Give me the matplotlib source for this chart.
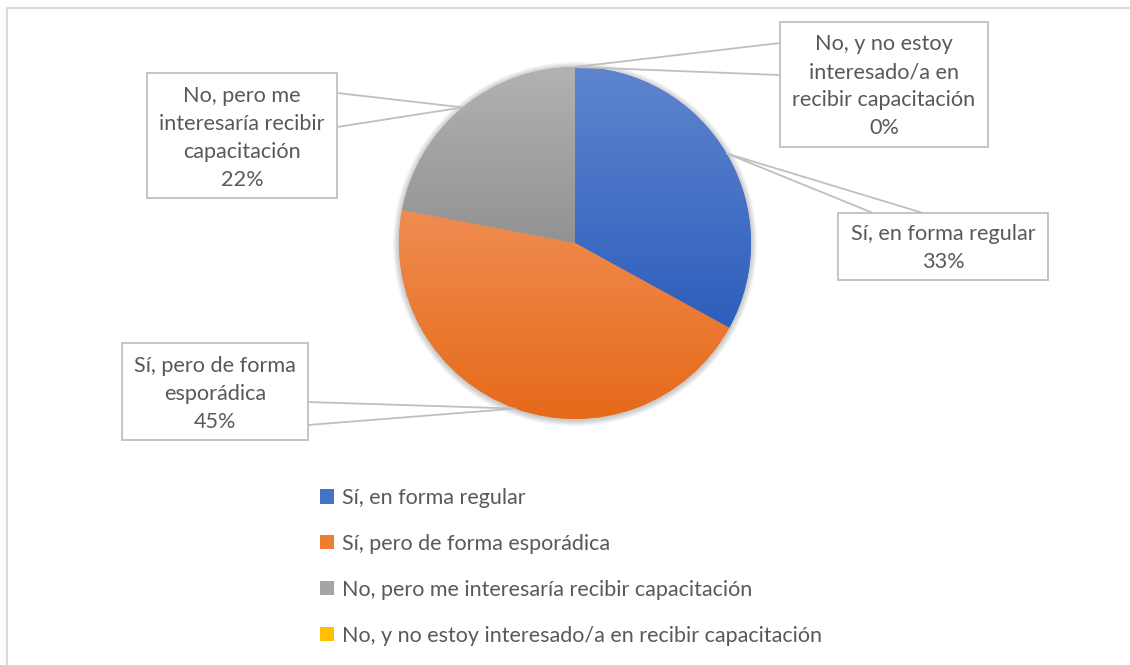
import matplotlib.pyplot as plt
import numpy as np
from matplotlib.patches import Rectangle, Patch, Circle
from matplotlib.colors import LinearSegmentedColormap

categories = [
    "Sí, en forma regular",
    "Sí, pero de forma esporádica",
    "No, pero me interesaría recibir capacitación",
    "No, y no estoy interesado/a en recibir capacitación",
]
values = [33, 45, 22, 0]
box_labels = [
    "Sí, en forma regular",
    "Sí, pero de forma\nesporádica",
    "No, pero me\ninteresaría recibir\ncapacitación",
    "No, y no estoy\ninteresado/a en\nrecibir capacitación",
]

colors_mid = ["#4472C4", "#ED7D31", "#A5A5A5", "#FFC000"]
colors_top = ["#5E85CE", "#F08C50", "#B2B2B2", "#FFCD33"]
colors_bot = ["#2E5EBC", "#E56A19", "#929292", "#E6AC00"]

W, H = 1130, 665
TEXT = "#595959"
LINE = "#BFBFBF"
plt.rcParams["font.family"] = ["Lato", "DejaVu Sans"]


def Y(y):
    # image row -> data y
    return H - y


fig = plt.figure(figsize=(W / 100, H / 100), dpi=100)
ax = fig.add_axes([0, 0, 1, 1])

cx, cy, r = 575, Y(243), 176

# soft shadow behind the pie
for k in range(1, 7):
    ax.add_patch(Circle((cx, cy - 1), r + k, color="black", alpha=0.035, lw=0, zorder=1))

wedges, _ = ax.pie(values, colors=colors_mid, startangle=90, counterclock=False,
                   radius=r, center=(cx, cy), frame=True,
                   wedgeprops=dict(linewidth=0))
for w in wedges:
    w.set_zorder(2)

# vertical gradient in each slice
grad = np.linspace(0, 1, 256).reshape(-1, 1)
for i, w in enumerate(wedges):
    if values[i] == 0:
        continue
    ext = w.get_path().get_extents()
    cmap = LinearSegmentedColormap.from_list("g%d" % i, [colors_bot[i], colors_top[i]])
    im = ax.imshow(grad, cmap=cmap, origin="lower", aspect="auto",
                   extent=(ext.x0, ext.x1, ext.y0, ext.y1), zorder=3)
    im.set_clip_path(w)

# data label boxes (image coords): x0, y0, x1, y1 and the two callout base points
boxes = [
    ((838, 213, 1048, 280), ((873, 213), (923, 213))),
    ((122, 343, 308, 440), ((308, 402), (308, 425))),
    ((147, 73, 337, 198), ((337, 93), (337, 127))),
    ((780, 22, 988, 147), ((780, 43), (780, 75))),
]

for i, w in enumerate(wedges):
    (x0, y0, x1, y1), bases = boxes[i]
    mid = np.deg2rad((w.theta1 + w.theta2) / 2)
    tip = (cx + r * np.cos(mid), cy + r * np.sin(mid))
    for bx, by in bases:
        ax.plot([bx, tip[0]], [Y(by), tip[1]], color=LINE, lw=1.3, zorder=5,
                solid_capstyle="butt")
    ax.add_patch(Rectangle((x0, Y(y1)), x1 - x0, y1 - y0, facecolor="white",
                           edgecolor=LINE, lw=1.3, zorder=6))
    ax.text((x0 + x1) / 2, Y((y0 + y1) / 2 + 2), f"{box_labels[i]}\n{values[i]}%",
            ha="center", va="center", fontsize=15.6, color=TEXT,
            linespacing=1.5, zorder=7)

# legend
handles = [Patch(facecolor=c, edgecolor="none") for c in colors_mid]
leg = ax.legend(handles, categories, loc="upper left", bbox_to_anchor=(320, Y(488)),
                bbox_transform=ax.transData, frameon=False, fontsize=15.5,
                handlelength=0.65, handleheight=0.65, handletextpad=0.35,
                labelspacing=1.2, borderpad=0, borderaxespad=0)
for t in leg.get_texts():
    t.set_color(TEXT)

# outer chart frame
ax.add_patch(Rectangle((7, -20), W + 20, Y(8) + 20, fill=False,
                       edgecolor="#D9D9D9", lw=1.5, zorder=0))

ax.set_xlim(0, W)
ax.set_ylim(0, H)
ax.axis("off")

fig.savefig("out.png", dpi=100)
